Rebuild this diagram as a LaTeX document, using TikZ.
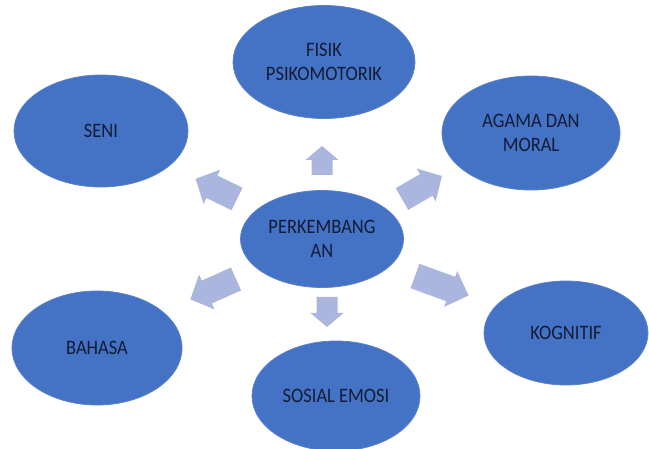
\documentclass[tikz,border=0pt]{standalone}
\usepackage{fontspec}
\setmainfont{Carlito}[FakeStretch=0.9]
\usetikzlibrary{shapes.geometric}
\definecolor{bubble}{HTML}{4472C4}
\definecolor{bubbleedge}{HTML}{5B82CC}
\definecolor{arrowfill}{HTML}{AAB6DE}
\definecolor{labelink}{HTML}{131C36}
\tikzset{
  bubble/.style={ellipse, fill=bubble, draw=bubbleedge, line width=0.8pt,
    inner sep=0pt, minimum width=#1, text=labelink, align=center,
    font=\fontsize{20.5}{23.5}\selectfont},
  blockarrow/.style={fill=arrowfill, draw=none}
}
% block arrow: #1 tail coordinate, #2 direction (deg), #3 length,
% #4 head length, #5 half head width, #6 half shaft width
\newcommand\blockarr[6]{%
  \fill[blockarrow, shift={(#1)}, rotate=#2]
    (0,-#6) -- (#3-#4,-#6) -- (#3-#4,-#5) -- (#3,0) -- (#3-#4,#5)
    -- (#3-#4,#6) -- (0,#6) -- cycle;}
\begin{document}
\begin{tikzpicture}[x=1pt,y=-1pt]
\useasboundingbox[fill=white] (0,0) rectangle (649,449);

% topic bubbles
\node[bubble=182pt, minimum height=113pt] (fisik) at (324,62) {FISIK\\PSIKOMOTORIK};
\node[bubble=174pt, minimum height=112pt] (seni) at (101,131) {SENI};
\node[bubble=178pt, minimum height=114pt] (agama) at (531,133) {AGAMA DAN\\MORAL};
\node[bubble=163pt, minimum height=97pt] (pusat) at (322,239) {PERKEMBANG\\AN};
\node[bubble=170pt, minimum height=114pt] (bahasa) at (97,348) {BAHASA};
\node[bubble=168pt, minimum height=110pt] (sosial) at (336,396) {SOSIAL EMOSI};
\node[bubble=164pt, minimum height=104pt] (kognitif) at (566,333) {KOGNITIF};

% arrow tails around the centre bubble
\coordinate (t-up) at (322,175);
\coordinate (t-ul) at (237,199);
\coordinate (t-ur) at (402,199);
\coordinate (t-ll) at (236,279);
\coordinate (t-lr) at (415,276);
\coordinate (t-dn) at (327,297);

\blockarr{t-up}{90}{29}{14}{16.5}{10.5}
\blockarr{t-ul}{154}{46}{18}{19}{12.5}
\blockarr{t-ur}{30}{46}{18}{19}{12.5}
\blockarr{t-ll}{204}{50}{18}{19}{12.5}
\blockarr{t-lr}{-20}{57}{19}{19}{13}
\blockarr{t-dn}{-90}{30}{14}{16.5}{10.5}
\end{tikzpicture}
\end{document}
